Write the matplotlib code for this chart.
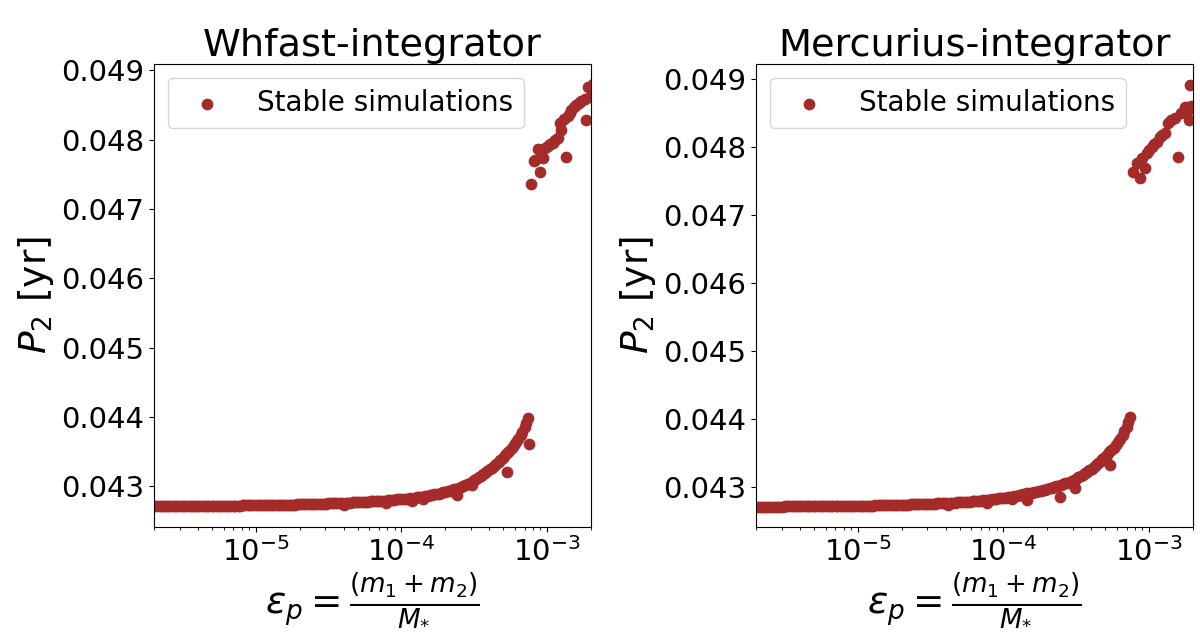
import matplotlib
matplotlib.use("Agg")
import matplotlib.pyplot as plt

# Planet-mass ratio grid shared by both integrators (lower, near-resonant branch)
eps_grid = [
    2.00e-6, 2.07e-6, 2.15e-6, 2.22e-6, 2.30e-6, 2.38e-6, 2.47e-6, 2.55e-6, 2.65e-6, 2.74e-6,
    2.84e-6, 2.94e-6, 3.05e-6, 3.15e-6, 3.27e-6, 3.38e-6, 3.51e-6, 3.62e-6, 3.76e-6, 3.88e-6,
    4.03e-6, 4.16e-6, 4.32e-6, 4.46e-6, 4.64e-6, 4.78e-6, 4.97e-6, 5.12e-6, 5.33e-6, 5.49e-6,
    5.72e-6, 5.88e-6, 6.13e-6, 6.31e-6, 6.58e-6, 6.76e-6, 7.05e-6, 7.25e-6, 7.56e-6, 7.77e-6,
    8.11e-6, 8.33e-6, 8.70e-6, 8.93e-6, 9.33e-6, 9.58e-6,
    1.00e-5, 1.04e-5, 1.07e-5, 1.11e-5, 1.15e-5, 1.19e-5, 1.23e-5, 1.28e-5, 1.32e-5, 1.37e-5,
    1.41e-5, 1.46e-5, 1.51e-5, 1.57e-5, 1.62e-5, 1.68e-5, 1.74e-5, 1.80e-5, 1.87e-5, 1.93e-5,
    2.00e-5, 2.07e-5, 2.15e-5, 2.22e-5, 2.30e-5, 2.38e-5, 2.47e-5, 2.55e-5, 2.65e-5, 2.74e-5,
    2.84e-5, 2.94e-5, 3.05e-5, 3.15e-5, 3.27e-5, 3.38e-5, 3.51e-5, 3.62e-5, 3.76e-5, 3.88e-5,
    4.03e-5, 4.16e-5, 4.32e-5, 4.46e-5, 4.64e-5, 4.78e-5, 4.97e-5, 5.12e-5, 5.33e-5, 5.49e-5,
    5.72e-5, 5.88e-5, 6.13e-5, 6.31e-5, 6.58e-5, 6.76e-5, 7.05e-5, 7.25e-5, 7.56e-5, 7.77e-5,
    8.11e-5, 8.33e-5, 8.70e-5, 8.93e-5, 9.33e-5, 9.58e-5,
    1.00e-4, 1.04e-4, 1.07e-4, 1.11e-4, 1.15e-4, 1.19e-4, 1.23e-4, 1.28e-4, 1.32e-4, 1.37e-4,
    1.41e-4, 1.46e-4, 1.51e-4, 1.57e-4, 1.62e-4, 1.68e-4, 1.74e-4, 1.80e-4, 1.87e-4, 1.93e-4,
    2.00e-4, 2.07e-4, 2.15e-4, 2.22e-4, 2.30e-4, 2.38e-4, 2.47e-4, 2.55e-4, 2.65e-4, 2.74e-4,
    2.84e-4, 2.94e-4, 3.05e-4, 3.15e-4, 3.27e-4, 3.38e-4, 3.51e-4, 3.62e-4, 3.76e-4, 3.88e-4,
    4.03e-4, 4.16e-4, 4.32e-4, 4.46e-4, 4.64e-4, 4.78e-4, 4.97e-4, 5.12e-4, 5.33e-4, 5.49e-4,
    5.72e-4, 5.88e-4, 6.13e-4, 6.31e-4, 6.58e-4, 6.76e-4, 7.05e-4, 7.20e-4, 7.35e-4,
]

# Outer-planet period [yr] on that grid, WHFast
p_whfast_grid = [
    0.042713, 0.042713, 0.042713, 0.042713, 0.042714, 0.042714, 0.042714, 0.042714, 0.042714, 0.042715,
    0.042715, 0.042715, 0.042715, 0.042715, 0.042716, 0.042716, 0.042716, 0.042716, 0.042717, 0.042717,
    0.042717, 0.042717, 0.042718, 0.042718, 0.042718, 0.042719, 0.042719, 0.042719, 0.042720, 0.042720,
    0.042720, 0.042720, 0.042721, 0.042721, 0.042721, 0.042722, 0.042722, 0.042722, 0.042723, 0.042723,
    0.042724, 0.042724, 0.042725, 0.042725, 0.042725, 0.042726,
    0.042726, 0.042726, 0.042727, 0.042727, 0.042728, 0.042728, 0.042729, 0.042729, 0.042730, 0.042730,
    0.042731, 0.042731, 0.042732, 0.042733, 0.042734, 0.042734, 0.042735, 0.042736, 0.042737, 0.042738,
    0.042739, 0.042740, 0.042741, 0.042741, 0.042742, 0.042743, 0.042744, 0.042745, 0.042746, 0.042747,
    0.042748, 0.042749, 0.042751, 0.042752, 0.042753, 0.042754, 0.042756, 0.042757, 0.042758, 0.042759,
    0.042728, 0.042762, 0.042764, 0.042765, 0.042767, 0.042768, 0.042770, 0.042771, 0.042773, 0.042775,
    0.042777, 0.042779, 0.042781, 0.042783, 0.042786, 0.042788, 0.042790, 0.042792, 0.042795, 0.042762,
    0.042800, 0.042803, 0.042806, 0.042808, 0.042811, 0.042813,
    0.042815, 0.042818, 0.042821, 0.042824, 0.042828, 0.042790, 0.042836, 0.042840, 0.042845, 0.042849,
    0.042820, 0.042858, 0.042863, 0.042869, 0.042875, 0.042882, 0.042889, 0.042896, 0.042904, 0.042912,
    0.042920, 0.042929, 0.042938, 0.042947, 0.042957, 0.042967, 0.042978, 0.042990, 0.043002, 0.043015,
    0.043028, 0.043046, 0.043015, 0.043085, 0.043105, 0.043127, 0.043150, 0.043172, 0.043195, 0.043220,
    0.043245, 0.043270, 0.043295, 0.043325, 0.043355, 0.043385, 0.043415, 0.043447, 0.043480, 0.043515,
    0.043550, 0.043590, 0.043635, 0.043685, 0.043735, 0.043790, 0.043855, 0.043915, 0.043980,
]

# Outer-planet period [yr] on that grid, MERCURIUS
p_mercurius_grid = [
    0.042712, 0.042712, 0.042712, 0.042712, 0.042712, 0.042712, 0.042713, 0.042713, 0.042713, 0.042713,
    0.042713, 0.042713, 0.042713, 0.042714, 0.042714, 0.042714, 0.042714, 0.042714, 0.042714, 0.042715,
    0.042715, 0.042715, 0.042715, 0.042716, 0.042716, 0.042716, 0.042716, 0.042717, 0.042717, 0.042717,
    0.042717, 0.042718, 0.042718, 0.042718, 0.042719, 0.042719, 0.042720, 0.042720, 0.042720, 0.042721,
    0.042721, 0.042722, 0.042722, 0.042723, 0.042724, 0.042724,
    0.042725, 0.042725, 0.042726, 0.042726, 0.042727, 0.042727, 0.042728, 0.042728, 0.042729, 0.042729,
    0.042730, 0.042731, 0.042732, 0.042732, 0.042733, 0.042734, 0.042735, 0.042736, 0.042737, 0.042738,
    0.042740, 0.042741, 0.042742, 0.042742, 0.042743, 0.042744, 0.042745, 0.042746, 0.042747, 0.042748,
    0.042750, 0.042751, 0.042752, 0.042753, 0.042755, 0.042756, 0.042758, 0.042759, 0.042761, 0.042762,
    0.042764, 0.042740, 0.042768, 0.042770, 0.042772, 0.042773, 0.042775, 0.042777, 0.042779, 0.042781,
    0.042784, 0.042786, 0.042789, 0.042791, 0.042794, 0.042797, 0.042800, 0.042803, 0.042807, 0.042811,
    0.042815, 0.042819, 0.042823, 0.042827, 0.042832, 0.042836,
    0.042840, 0.042845, 0.042850, 0.042856, 0.042830, 0.042868, 0.042874, 0.042880, 0.042887, 0.042893,
    0.042899, 0.042905, 0.042912, 0.042919, 0.042926, 0.042933, 0.042940, 0.042948, 0.042956, 0.042963,
    0.042970, 0.042980, 0.042990, 0.043000, 0.043010, 0.043021, 0.043033, 0.043044, 0.043055, 0.043066,
    0.043078, 0.043094, 0.043110, 0.043125, 0.043140, 0.043160, 0.043180, 0.043200, 0.043220, 0.043245,
    0.043270, 0.043297, 0.043325, 0.043355, 0.043385, 0.043415, 0.043445, 0.043477, 0.043510, 0.043545,
    0.043580, 0.043620, 0.043660, 0.043710, 0.043760, 0.043820, 0.043880, 0.043955, 0.044030,
]

# Off-trend runs and the wide-orbit branch, WHFast
eps_whfast_other = [
    2.39e-4, 5.31e-4, 7.52e-4,
    7.80e-4, 8.09e-4, 8.30e-4, 8.66e-4, 8.99e-4, 9.37e-4, 9.70e-4, 1.014e-3, 1.05e-3, 1.098e-3,
    1.14e-3, 1.188e-3, 1.221e-3, 1.253e-3, 1.30e-3, 1.357e-3, 1.39e-3, 1.429e-3, 1.468e-3, 1.53e-3,
    1.589e-3, 1.65e-3, 1.719e-3, 1.811e-3, 1.86e-3, 1.91e-3, 1.96e-3, 2.05e-3,
]
p_whfast_other = [
    0.042874, 0.043211, 0.043606,
    0.047362, 0.047685, 0.047700, 0.047864, 0.047532, 0.047734, 0.047880, 0.047912, 0.047930, 0.047951,
    0.047990, 0.048023, 0.048240, 0.048143, 0.048300, 0.047749, 0.048340, 0.048384, 0.048431, 0.048470,
    0.048503, 0.048530, 0.048551, 0.048583, 0.048284, 0.048765, 0.048620, 0.048800,
]

# Off-trend runs and the wide-orbit branch, MERCURIUS
eps_mercurius_other = [
    7.7e-5, 1.45e-4, 2.44e-4, 3.10e-4, 5.38e-4,
    7.77e-4, 8.20e-4, 8.64e-4, 8.87e-4, 9.34e-4, 9.60e-4, 1.00e-3, 1.038e-3, 1.08e-3, 1.124e-3,
    1.184e-3, 1.23e-3, 1.281e-3, 1.349e-3, 1.42e-3, 1.499e-3, 1.58e-3, 1.667e-3, 1.755e-3,
    1.849e-3, 1.87e-3, 1.90e-3, 1.95e-3,
]
p_mercurius_other = [
    0.042765, 0.042809, 0.042857, 0.042981, 0.043324,
    0.047637, 0.047760, 0.047540, 0.047834, 0.047687, 0.047907, 0.047950, 0.048004, 0.048040, 0.048078,
    0.048151, 0.048180, 0.048201, 0.048349, 0.048390, 0.048422, 0.047857, 0.048496, 0.048593,
    0.048544, 0.048397, 0.048912, 0.048600,
]

panel_titles = ["Whfast-integrator", "Mercurius-integrator"]
legend_label = "Stable simulations"
xlabel = r"$\varepsilon_p = \frac{(m_1 + m_2)}{M_{*}}$"
ylabel = r"$P_2$ [yr]"

panels = [
    (eps_grid + eps_whfast_other, p_whfast_grid + p_whfast_other, (0.042413, 0.04909)),
    (eps_grid + eps_mercurius_other, p_mercurius_grid + p_mercurius_other, (0.042412, 0.04922)),
]

fig = plt.figure(figsize=(12, 6.35), dpi=100)
lefts = [154 / 1200, 756 / 1200]
width = 437 / 1200
bottom = 1 - 527 / 635
height = (527 - 64) / 635

for left, title, (eps, p2, ylim) in zip(lefts, panel_titles, panels):
    ax = fig.add_axes([left, bottom, width, height])
    ax.scatter(eps, p2, s=55, color="brown", label=legend_label)
    ax.set_xscale("log")
    ax.set_xlim(2e-6, 2e-3)
    ax.set_ylim(*ylim)
    ax.set_title(title, fontsize=27.5)
    ax.set_xlabel(xlabel, fontsize=27)
    ax.set_ylabel(ylabel, fontsize=27)
    ax.tick_params(axis="both", which="major", labelsize=21)
    ax.legend(loc="upper left", fontsize=20)

fig.savefig("out.png", dpi=100)
